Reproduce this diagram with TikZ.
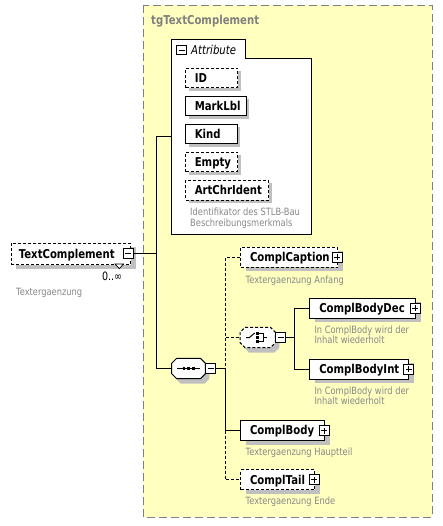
\documentclass[tikz,border=0pt]{standalone}
\usepackage{fontspec}
\setmainfont{DejaVu Sans}[FakeStretch=0.83]
\definecolor{grpfill}{RGB}{255,255,192}
\definecolor{grpline}{RGB}{128,128,128}
\definecolor{shadowc}{RGB}{192,192,192}
\definecolor{annot}{RGB}{136,136,136}
\newcommand\chamfpath[2]{\path[#2] ([xshift=5pt]#1.north west) -- ([xshift=-5pt]#1.north east) -- ([yshift=-5pt]#1.north east) -- ([yshift=5pt]#1.south east) -- ([xshift=-5pt]#1.south east) -- ([xshift=5pt]#1.south west) -- ([yshift=5pt]#1.south west) -- ([yshift=-5pt]#1.north west) -- cycle;}
\begin{document}
\begin{tikzpicture}[x=1pt,y=-1pt,
  boxbase/.style={draw=black, line width=1pt, fill=white, anchor=north west, inner ysep=0pt, inner xsep=9.5pt, minimum height=20pt, text height=8.8pt, text depth=0pt, align=left, font=\fontsize{12.2}{14}\selectfont\bfseries},
  elem/.style={boxbase, preaction={fill=shadowc, draw=none, transform canvas={xshift=5pt,yshift=-4pt}}},
  attrbox/.style={boxbase, inner xsep=9pt, minimum height=19.6pt, preaction={fill=shadowc, draw=none, transform canvas={xshift=3pt,yshift=-3pt}}},
  opt/.style={dash pattern=on 3pt off 2pt},
  conn/.style={line width=1pt},
  btn/.style={draw=black, line width=1pt, fill=white, minimum size=10pt, inner sep=0pt},
  minusbtn/.style={btn, path picture={\draw[line width=1pt] ([xshift=2pt]path picture bounding box.west) -- ([xshift=-2pt]path picture bounding box.east);}},
  plusbtn/.style={btn, path picture={\draw[line width=1pt] ([xshift=2pt]path picture bounding box.west) -- ([xshift=-2pt]path picture bounding box.east) ([yshift=-2pt]path picture bounding box.north) -- ([yshift=2pt]path picture bounding box.south);}},
  ann/.style={anchor=base west, inner sep=0pt, text=annot, font=\fontsize{10}{11}\selectfont},
  cmp/.style={draw=none, anchor=north west, minimum height=20pt, inner sep=0pt}
]
\useasboundingbox (0,0) rectangle (443,526);
\fill[white] (0,0) rectangle (443,526);

% group
\draw[grpline, fill=grpfill, line width=1pt, dash pattern=on 8pt off 4pt] (143.3,5.3) rectangle (432.3,517.3);
\node[anchor=base west, inner sep=0pt, text=grpline, font=\fontsize{12.2}{14}\selectfont\bfseries] (title) at (151,24.5) {tgTextComplement};

% attribute box
\draw[line width=1pt, fill=white] (171.3,39.3) -- (245.3,39.3) -- (245.3,58.7) -- (311.3,58.7) -- (311.3,234.3) -- (171.3,234.3) -- cycle;
\coordinate (attrW) at (171.3,137);
\node[minusbtn, minimum height=9pt] (attrB) at (181.8,50.2) {};
\node[anchor=base west, inner sep=0pt, font=\fontsize{12.2}{14}\selectfont\itshape] (attrT) at (191,54.3) {Attribute};

\node[attrbox, opt, text width=33.7pt] (aID) at (185.3,67.7) {ID};
\node[attrbox, text width=42.4pt] (aML) at (185.3,95.7) {MarkLbl};
\node[attrbox, text width=33.4pt] (aK) at (185.3,123.7) {Kind};
\node[attrbox, opt, text width=33.7pt] (aE) at (185.3,151.7) {Empty};
\node[attrbox, opt, text width=64.7pt] (aA) at (185.3,180) {ArtChrIdent};
\node[ann] (aA1) at (190,215.5) {Identifikator des STLB-Bau};
\node[ann] (aA2) at (190,226) {Beschreibungsmerkmals};

% TextComplement
\node[elem, opt, inner xsep=7.6pt, minimum height=21.5pt, text width=104.1pt] (tc) at (10.7,242.5) {TextComplement};
\node[minusbtn] (tcB) at ([xshift=-3pt]tc.east) {};
\draw[line width=0.7pt, fill=white] (115,264) -- (123.6,264) -- (119.3,268.6) -- cycle;
\node[anchor=base east, inner sep=0pt, font=\fontsize{11.5}{13}\selectfont] (tcM) at (122.3,280) {0..∞};
\node[ann] (tcA) at (16,295.7) {Textergaenzung};

% sequence
\node[cmp, minimum width=33.3pt] (seq) at (171.7,358.3) {};
\chamfpath{seq}{fill=shadowc, transform canvas={xshift=4pt,yshift=-5pt}}
\chamfpath{seq}{draw=black, line width=1pt, fill=white}
\begin{scope}[shift={(seq.center)}]
  \draw[line width=1pt] (-11.6,0) -- (11.6,0);
  \fill (-6.05,-1.35) rectangle +(2.7,2.7);
  \fill (-1.35,-1.35) rectangle +(2.7,2.7);
  \fill (3.35,-1.35) rectangle +(2.7,2.7);
\end{scope}
\node[minusbtn, anchor=west] (seqB) at (seq.east) {};

% choice
\node[cmp, minimum width=35pt] (ch) at (240,327.3) {};
\chamfpath{ch}{fill=shadowc, transform canvas={xshift=4pt,yshift=-5pt}}
\chamfpath{ch}{draw=black, line width=1pt, fill=white, opt}
\begin{scope}[shift={(ch.center)}]
  \draw[line width=1pt] (-11.5,0) -- (-8.3,0) -- (-3,-4.5);
  \fill (-1.6,-5.35) rectangle +(2.7,2.7);
  \fill (-1.6,-1.35) rectangle +(2.7,2.7);
  \fill (-1.6,2.65) rectangle +(2.7,2.7);
  \draw[line width=1pt] (1.1,-4) -- (6,-4) -- (6,4) -- (1.1,4) (6,0) -- (9.5,0);
\end{scope}
\node[minusbtn, anchor=west] (chB) at (ch.east) {};

% elements
\node[elem, opt, text width=78.3pt] (cc) at (240,246.7) {ComplCaption};
\node[plusbtn] (ccB) at ([xshift=-1pt]cc.east) {};
\node[ann] (ccA) at (245.5,283.3) {Textergaenzung Anfang};

\node[elem, text width=86.7pt] (cbd) at (309.3,297.5) {ComplBodyDec};
\node[plusbtn] (cbdB) at ([xshift=-0.7pt]cbd.east) {};
\node[ann] (cbdA1) at (314.3,333) {In ComplBody wird der};
\node[ann] (cbdA2) at (314.3,343.7) {Inhalt wiederholt};

\node[elem, text width=80pt] (cbi) at (309.3,358.5) {ComplBodyInt};
\node[plusbtn] (cbiB) at ([xshift=-0.5pt]cbi.east) {};
\node[ann] (cbiA1) at (314.3,394) {In ComplBody wird der};
\node[ann] (cbiA2) at (314.3,404.7) {Inhalt wiederholt};

\node[elem, text width=65pt] (cb) at (240,420) {ComplBody};
\node[plusbtn] (cbB) at ([xshift=-1pt]cb.east) {};
\node[ann] (cbA) at (245.5,455) {Textergaenzung Hauptteil};

\node[elem, opt, text width=55pt] (ct) at (240,469.3) {ComplTail};
\node[plusbtn] (ctB) at ([xshift=-0.7pt]ct.east) {};
\node[ann] (ctA) at (245.5,504.5) {Textergaenzung Ende};

% connectors
\coordinate (trunk) at (156,0);
\coordinate (br) at (225.7,0);
\coordinate (br2) at (294.3,0);
\draw[conn] (tcB.east) -- (tcB.east -| trunk);
\draw[conn] (attrW) -- (attrW -| trunk) -- (seq.west -| trunk) -- (seq.west);
\draw[conn] (seqB.east) -- (seqB.east -| br);
\draw[conn, opt] (cc.west) -- (cc.west -| br) -- (seqB.east -| br);
\draw[conn, opt] (ch.west -| br) -- (ch.west);
\draw[conn] (seqB.east -| br) -- (cb.west -| br) -- (cb.west);
\draw[conn, opt] (cb.west -| br) -- (ct.west -| br) -- (ct.west);
\draw[conn] (chB.east) -- (chB.east -| br2);
\draw[conn] (cbd.west) -- (cbd.west -| br2) -- (cbi.west -| br2) -- (cbi.west);
\end{tikzpicture}
\end{document}
